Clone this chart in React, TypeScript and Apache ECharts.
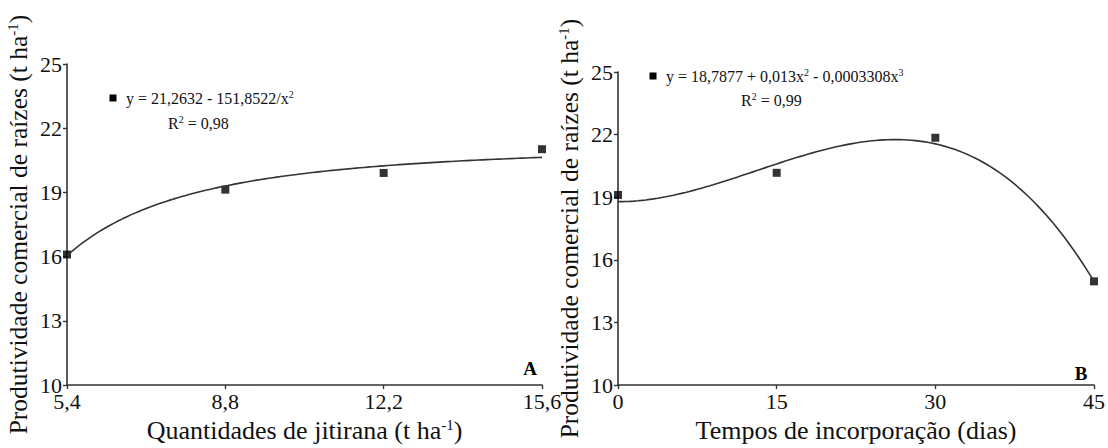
import React, { useEffect, useRef } from "react";
import * as echarts from "echarts";

// Panel A: quantities of jitirana (t/ha) vs. commercial root yield
const amountsA = [5.4, 8.8, 12.2, 15.6];
const yieldA = [16.1, 19.13, 19.91, 21.02];
// fitted model y = a + b / x^2
const fitA = { a: 21.2632, b: -151.8522 };

// Panel B: incorporation time (days) vs. commercial root yield
const daysB = [0, 15, 30, 45];
const yieldB = [19.11, 20.17, 21.85, 14.97];
// fitted model y = c0 + c2 x^2 + c3 x^3
const fitB = { c0: 18.7877, c2: 0.013, c3: -0.0003308 };

const xTicksA = [5.4, 8.8, 12.2, 15.6];
const xTicksB = [0, 15, 30, 45];
const yTicks = [10, 13, 16, 19, 22, 25];

const FONT = "'Liberation Serif', 'Times New Roman', 'DejaVu Serif', serif";

function curve(x0: number, x1: number, f: (x: number) => number): number[][] {
  const pts: number[][] = [];
  const n = 120;
  for (let i = 0; i <= n; i++) {
    const x = x0 + ((x1 - x0) * i) / n;
    pts.push([x, f(x)]);
  }
  return pts;
}

const comma = (v: number) => String(v).replace(".", ",");

const supRich = {
  sup: { fontFamily: FONT, fontSize: 15, color: "#111", padding: [0, 0, 11, 0] },
};

function xAxis(gridIndex: number, min: number, max: number, ticks: number[], name: string, gap: number) {
  return {
    type: "value",
    gridIndex,
    min,
    max,
    name,
    nameLocation: "middle",
    nameGap: gap,
    nameTextStyle: { fontFamily: FONT, fontSize: 26, color: "#111", rich: supRich },
    splitLine: { show: false },
    axisLine: { lineStyle: { color: "#333", width: 1.6 } },
    axisTick: { show: true, length: 4, customValues: ticks, lineStyle: { color: "#333", width: 1.4 } },
    axisLabel: {
      customValues: ticks,
      formatter: (v: number) => comma(v),
      fontFamily: FONT,
      fontSize: 22,
      color: "#111",
      margin: 5,
    },
  };
}

function yAxis(gridIndex: number) {
  return {
    type: "value",
    gridIndex,
    min: 10,
    max: 25,
    name: "Produtividade comercial de raízes (t ha{sup|-1})",
    nameLocation: "middle",
    nameGap: 36,
    nameTextStyle: { fontFamily: FONT, fontSize: 25.5, color: "#111", rich: supRich },
    splitLine: { show: false },
    axisLine: { show: true, lineStyle: { color: "#333", width: 1.6 } },
    axisTick: { show: true, length: 4, customValues: yTicks, lineStyle: { color: "#333", width: 1.4 } },
    axisLabel: {
      customValues: yTicks,
      fontFamily: FONT,
      fontSize: 22,
      color: "#111",
      margin: 5,
    },
  };
}

const eqRich = {
  base: { fontFamily: FONT, fontSize: 16, color: "#111" },
  sup: { fontFamily: FONT, fontSize: 10, color: "#111", padding: [0, 0, 7, 0] },
};

function equation(mx: number, my: number, line1: string, line2: string, r2x: number, r2y: number) {
  return [
    { type: "rect", shape: { x: mx - 3.5, y: my - 3.5, width: 7, height: 7 }, style: { fill: "#000" } },
    {
      type: "text",
      x: mx + 13,
      y: my,
      style: { text: line1, rich: eqRich, fontFamily: FONT, fontSize: 16, fill: "#111", verticalAlign: "middle" },
    },
    {
      type: "text",
      x: r2x,
      y: r2y,
      style: { text: line2, rich: eqRich, fontFamily: FONT, fontSize: 16, fill: "#111", verticalAlign: "middle" },
    },
  ];
}

export default function App() {
  const ref = useRef<HTMLDivElement>(null);

  useEffect(() => {
    if (!ref.current) return;
    const chart = echarts.init(ref.current, undefined, { renderer: "svg" });

    const lineA = curve(amountsA[0], amountsA[amountsA.length - 1], (x) => fitA.a + fitA.b / (x * x));
    const lineB = curve(daysB[0], daysB[daysB.length - 1], (x) => fitB.c0 + fitB.c2 * x * x + fitB.c3 * x * x * x);

    chart.setOption({
      animation: false,
      backgroundColor: "#fff",
      textStyle: { fontFamily: FONT },
      grid: [
        { left: 67, right: 566, top: 64, bottom: 61 },
        { left: 618, right: 14, top: 72, bottom: 56 },
      ],
      xAxis: [
        xAxis(0, 5.4, 15.6, xTicksA, "Quantidades de jitirana (t ha{sup|-1})", 31),
        xAxis(1, 0, 45, xTicksB, "Tempos de incorporação (dias)", 29),
      ],
      yAxis: [yAxis(0), yAxis(1)],
      series: [
        {
          type: "line",
          xAxisIndex: 0,
          yAxisIndex: 0,
          data: lineA,
          showSymbol: false,
          lineStyle: { color: "#333", width: 1.6 },
        },
        {
          type: "scatter",
          xAxisIndex: 0,
          yAxisIndex: 0,
          data: amountsA.map((x, i) => [x, yieldA[i]]),
          symbol: "rect",
          symbolSize: 8,
          itemStyle: { color: "#000" },
        },
        {
          type: "line",
          xAxisIndex: 1,
          yAxisIndex: 1,
          data: lineB,
          showSymbol: false,
          lineStyle: { color: "#333", width: 1.6 },
        },
        {
          type: "scatter",
          xAxisIndex: 1,
          yAxisIndex: 1,
          data: daysB.map((x, i) => [x, yieldB[i]]),
          symbol: "rect",
          symbolSize: 8,
          itemStyle: { color: "#000" },
        },
      ],
      graphic: [
        ...equation(113, 98, "{base|y = 21,2632 - 151,8522/x}{sup|2}", "{base|R}{sup|2}{base| = 0,98}", 168, 123),
        ...equation(653, 76, "{base|y = 18,7877 + 0,013x}{sup|2}{base| - 0,0003308x}{sup|3}", "{base|R}{sup|2}{base| = 0,99}", 741, 100),
        {
          type: "text",
          x: 530,
          y: 368,
          style: { text: "A", fontFamily: FONT, fontWeight: "bold", fontSize: 19, fill: "#000", align: "center", verticalAlign: "middle" },
        },
        {
          type: "text",
          x: 1081,
          y: 373,
          style: { text: "B", fontFamily: FONT, fontWeight: "bold", fontSize: 19, fill: "#000", align: "center", verticalAlign: "middle" },
        },
      ],
    });

    return () => chart.dispose();
  }, []);

  return (
    <div
      ref={ref}
      style={{ position: "fixed", left: 0, top: 0, width: 1108, height: 448, background: "#fff" }}
    />
  );
}
